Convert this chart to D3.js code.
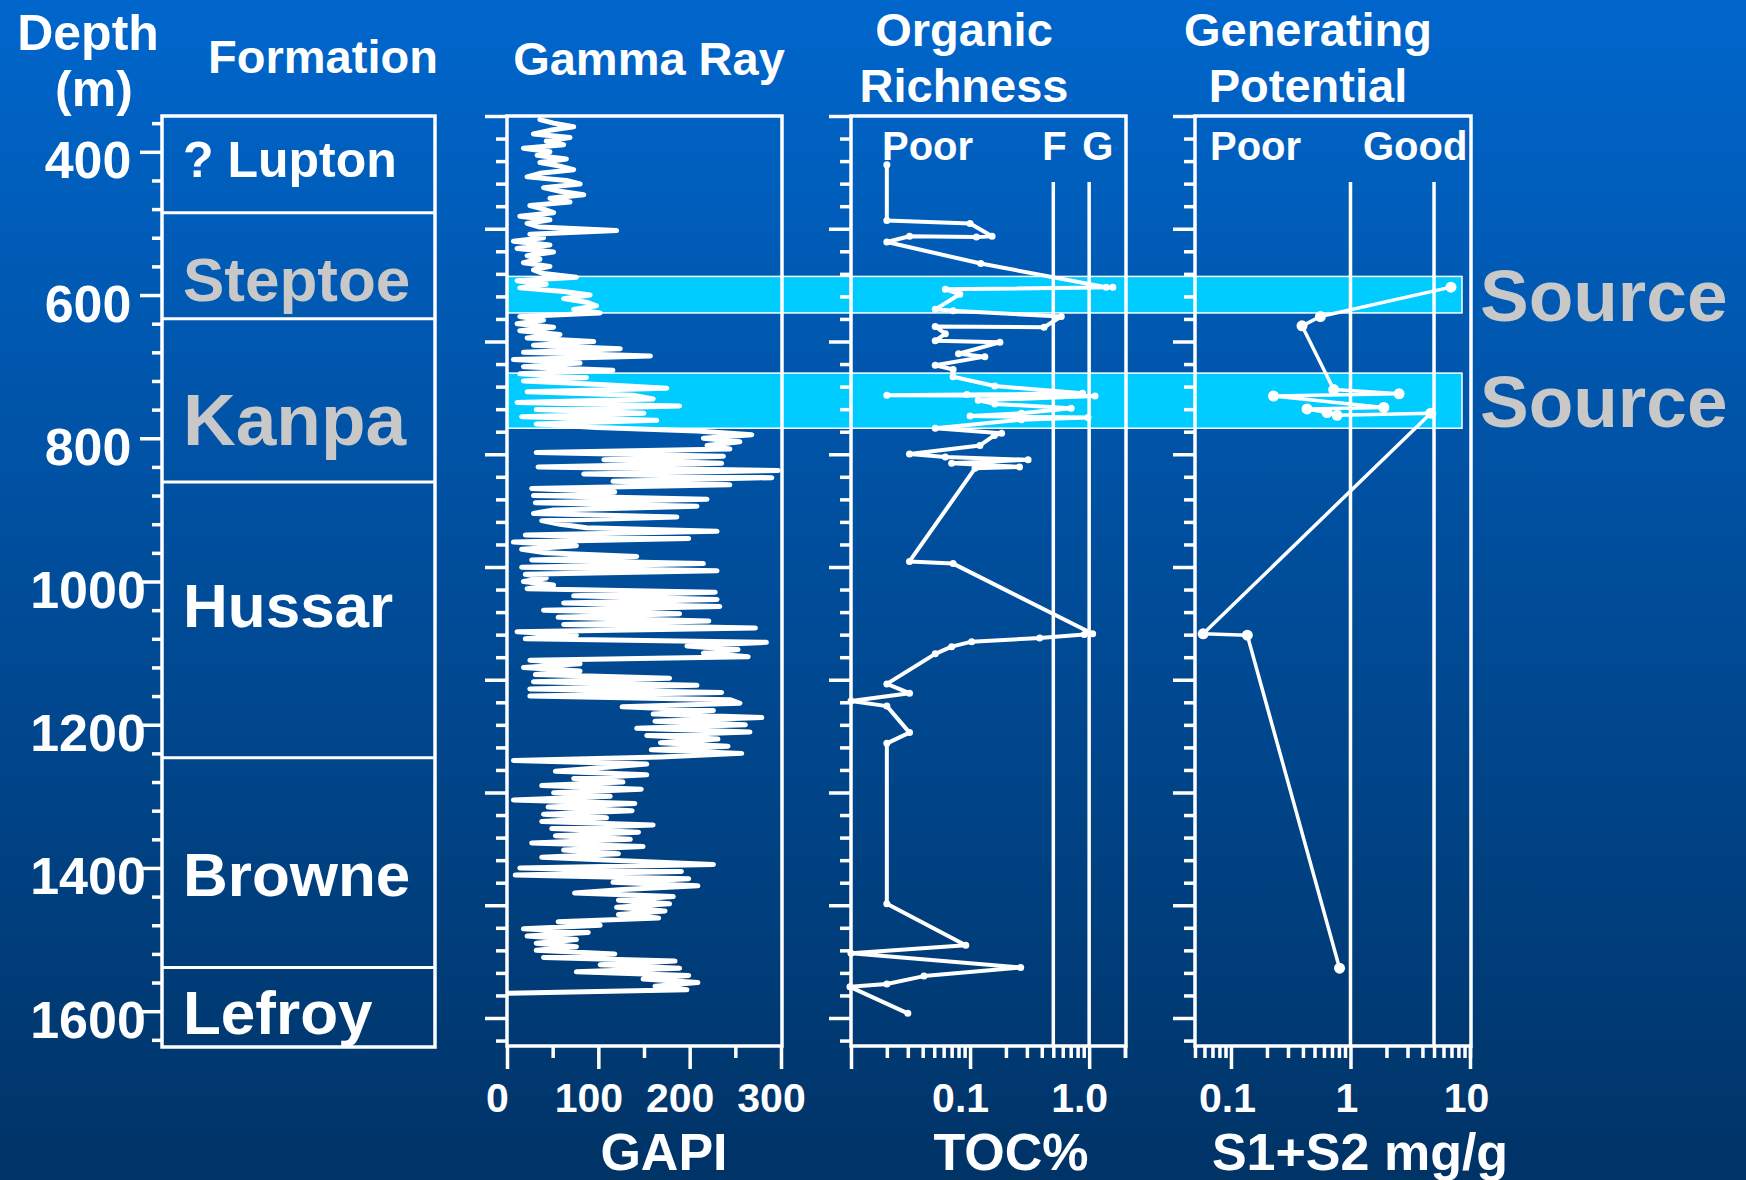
<!DOCTYPE html>
<html>
<head>
<meta charset="utf-8">
<script src="https://cdn.jsdelivr.net/npm/d3@7"></script>
<style>
  body { margin: 0; background: #003366; }
  svg { display: block; }
  text { font-family: "Liberation Sans", Arial, sans-serif; font-weight: bold; }
</style>
</head>
<body>
<div id="chart"></div>
<script>

var width = 1746, height = 1180;

// formations, tops in metres
var formations = ['? Lupton', 'Steptoe', 'Kanpa', 'Hussar', 'Browne', 'Lefroy'];
var formationTops = [350, 485, 633, 861, 1246, 1539];
var formationBase = 1650;

// source rock intervals
var sourceTops = [574, 709];
var sourceBases = [625, 786];

// gamma ray log, one reading every 5 m from 355 m
var grTop = 355, grStep = 5;
var grValues = [
    36, 51, 73, 47, 29, 69, 43, 62, 18, 47,
    33, 65, 36, 58, 73, 36, 22, 65, 80, 40,
    58, 84, 47, 69, 25, 40, 51, 14, 47, 22,
    36, 120, 25, 40, 7, 47, 11, 51, 22, 36,
    18, 47, 29, 40, 76, 11, 43, 14, 62, 91,
    62, 87, 98, 73, 102, 14, 40, 11, 51, 14,
    58, 22, 95, 29, 124, 18, 157, 7, 80, 18,
    116, 14, 87, 18, 102, 175, 22, 138, 160, 11,
    189, 32, 150, 16, 164, 32, 98, 208, 268, 215,
    255, 219, 244, 32, 237, 106, 235, 34, 297, 84,
    290, 116, 244, 27, 118, 29, 219, 31, 208, 51,
    29, 186, 38, 58, 87, 230, 20, 199, 7, 76,
    16, 42, 142, 27, 215, 16, 230, 20, 43, 18,
    51, 22, 228, 73, 230, 62, 233, 40, 189, 56,
    221, 62, 272, 11, 76, 20, 284, 197, 253, 215,
    264, 25, 80, 18, 80, 31, 178, 29, 208, 25,
    235, 25, 244, 255, 126, 226, 160, 279, 162, 261,
    142, 266, 153, 231, 168, 242, 158, 257, 168, 7,
    153, 102, 53, 153, 73, 127, 38, 147, 51, 113,
    7, 140, 45, 137, 40, 109, 38, 160, 49, 144,
    53, 135, 27, 149, 62, 122, 38, 127, 226, 14,
    191, 9, 199, 116, 209, 127, 74, 182, 122, 178,
    120, 173, 122, 166, 56, 102, 18, 89, 22, 76,
    32, 76, 32, 118, 40, 184, 102, 189, 76, 199,
    149, 209, 162, 197, 2
];

// TOC samples
var tocDepth = [418, 496, 500, 518, 519, 518, 526, 556, 589, 589, 592, 599, 620, 622, 630, 645,
    644, 654, 664, 666, 682, 686, 698, 704, 714, 727, 737, 739, 740, 741, 747, 752, 758, 765,
    769, 771, 774, 786, 793, 796, 810, 822, 826, 830, 835, 840, 842, 972, 975, 1073, 1074,
    1079, 1084, 1091, 1101, 1143, 1156, 1167, 1174, 1211, 1226, 1450, 1508, 1519, 1539, 1551,
    1562, 1566, 1603];
var tocValue = [0.02, 0.02, 0.1, 0.153, 0.113, 0.031, 0.02, 0.123, 1.39, 1.58, 0.062, 0.082, 0.051, 0.072, 0.583, 0.418,
    0.051, 0.062, 0.051, 0.178, 0.08, 0.133, 0.051, 0.072, 0.072, 0.161, 0.88, 0.094, 0.02, 1.12, 0.117, 0.161, 0.706, 0.27,
    0.1, 0.977, 0.27, 0.051, 0.184, 0.16, 0.121, 0.031, 0.062, 0.307, 0.07, 0.26, 0.11, 0.031, 0.072, 1.07, 0.91,
    0.384, 0.103, 0.07, 0.051, 0.02, 0.031, 0.01, 0.02, 0.031, 0.02, 0.02, 0.092, 0.01, 0.266, 0.041,
    0.02, 0.0098, 0.03];

// S1+S2 samples
var gpDepth = [589, 630, 643, 732, 738, 741, 757, 759, 764, 768, 765, 1073, 1075, 1540];
var gpValue = [6.93, 0.56, 0.393, 0.724, 2.55, 0.227, 1.9, 0.433, 0.637, 0.773, 4.7, 0.0585, 0.137, 0.81];

var depthLabels = [400, 600, 800, 1000, 1200, 1400, 1600];
var grTicks = [0, 100, 200, 300];
var grMinor = [50, 150, 250];
var tocMajor = [0.01, 0.1, 1];
var tocLabels = { 0.1: '0.1', 1: '1.0' };
var gpMajor = [0.1, 1, 10];
var gpLabels = { 0.1: '0.1', 1: '1', 10: '10' };
var tocCutoffs = [0.5, 1];
var tocCutoffNames = ['F', 'G'];
var gpCutoffs = [1, 5];

// layout
var plotTop = 116, plotBottom = 1047;
var formStyle = [
    { size: 50, color: '#ffffff', base: 177 },
    { size: 62, color: '#c8c8c8', base: 301 },
    { size: 73, color: '#c8c8c8', base: 445 },
    { size: 62, color: '#ffffff', base: 627 },
    { size: 62, color: '#ffffff', base: 896 },
    { size: 62, color: '#ffffff', base: 1034 }
];

var y = d3.scaleLinear().domain([350, formationBase]).range([plotTop, plotBottom]);
var trackY = d3.scaleLinear().domain([0, 40]).range([plotTop, 1018]);
var xGR = d3.scaleLinear().domain([0, 300]).range([507, 781]);
var xTOC = d3.scaleLog().domain([0.01, 2]).range([851, 1125]);
var xGP = d3.scaleLog().domain([0.05, 10]).range([1195, 1470]);

var svg = d3.select('#chart').append('svg').attr('width', width).attr('height', height);

var grad = svg.append('defs').append('linearGradient').attr('id', 'bg')
    .attr('x1', 0).attr('y1', 0).attr('x2', 0).attr('y2', 1);
grad.append('stop').attr('offset', '0%').attr('stop-color', '#0066cc');
grad.append('stop').attr('offset', '100%').attr('stop-color', '#003366');
svg.append('rect').attr('width', width).attr('height', height).attr('fill', 'url(#bg)');

// source bands
svg.selectAll('rect.source').data(sourceTops).enter().append('rect')
    .attr('class', 'source')
    .attr('x', xGR(0)).attr('width', 1462 - xGR(0))
    .attr('y', function(d) { return y(d); })
    .attr('height', function(d, i) { return y(sourceBases[i]) - y(d); })
    .attr('fill', '#00ccff').attr('stroke', '#fff').attr('stroke-width', 1.5);

function styleAxis(g) {
    g.select('.domain').remove();
    g.attr('color', '#fff');
    g.selectAll('line').attr('stroke-width', 3.5);
}

// formation column
svg.append('rect').attr('x', 162).attr('y', plotTop).attr('width', 435 - 162).attr('height', plotBottom - plotTop)
    .attr('fill', 'none').attr('stroke', '#fff').attr('stroke-width', 3.5);

svg.selectAll('line.fm').data(formationTops.slice(1)).enter().append('line')
    .attr('class', 'fm')
    .attr('x1', 162).attr('x2', 435)
    .attr('y1', function(d) { return y(d); }).attr('y2', function(d) { return y(d); })
    .attr('stroke', '#fff').attr('stroke-width', 3);

svg.selectAll('text.fm').data(formations).enter().append('text')
    .attr('class', 'fm')
    .attr('x', 183)
    .attr('y', function(d, i) { return formStyle[i].base; })
    .attr('font-size', function(d, i) { return formStyle[i].size; })
    .attr('fill', function(d, i) { return formStyle[i].color; })
    .text(function(d) { return d; });

// depth axis
svg.append('g').attr('transform', 'translate(162,0)')
    .call(d3.axisLeft(y).tickValues(d3.range(360, 1641, 40).filter(function(d) { return d % 200; }))
        .tickSize(10).tickFormat(''))
    .call(styleAxis);

var depthAxis = svg.append('g').attr('transform', 'translate(162,0)')
    .call(d3.axisLeft(y).tickValues(depthLabels).tickSize(22).tickFormat(d3.format('d')))
    .call(styleAxis);
depthAxis.selectAll('text')
    .attr('x', 88 - 162).attr('dy', null).attr('y', 26)
    .attr('text-anchor', 'middle').attr('font-size', 52).attr('fill', '#fff')
    .style('font-family', '"Liberation Sans", Arial, sans-serif').style('font-weight', 'bold');

// track panels
var panels = [
    { x: xGR, major: grTicks, minor: grMinor, labels: null, dx: -10 },
    { x: xTOC, major: tocMajor, minor: null, labels: tocLabels, dx: -10 },
    { x: xGP, major: gpMajor, minor: null, labels: gpLabels, dx: -4 }
];

panels.forEach(function(p) {
    var r = p.x.range();
    var left = r[0], right = r[1] + 1;

    svg.append('rect').attr('x', left).attr('y', plotTop).attr('width', right - left).attr('height', plotBottom - 1 - plotTop)
        .attr('fill', 'none').attr('stroke', '#fff').attr('stroke-width', 3.5);

    svg.append('g').attr('transform', 'translate(' + left + ',0)')
        .call(d3.axisLeft(trackY).tickValues(d3.range(0, 42).filter(function(i) { return i % 5; }))
            .tickSize(11).tickFormat(''))
        .call(styleAxis);
    svg.append('g').attr('transform', 'translate(' + left + ',0)')
        .call(d3.axisLeft(trackY).tickValues(d3.range(0, 42, 5)).tickSize(22).tickFormat(''))
        .call(styleAxis);

    var minor = p.minor;
    if (!minor) {
        var d = p.x.domain();
        minor = p.x.ticks().filter(function(v) { return v >= d[0] && v <= d[1] && p.major.indexOf(v) < 0; });
        minor.push(d[1]);
    }
    svg.append('g').attr('transform', 'translate(0,' + (plotBottom - 1) + ')')
        .call(d3.axisBottom(p.x).tickValues(minor).tickSize(12).tickFormat(''))
        .call(styleAxis);

    var ax = svg.append('g').attr('transform', 'translate(0,' + (plotBottom - 1) + ')')
        .call(d3.axisBottom(p.x).tickValues(p.major).tickSize(23)
            .tickFormat(function(v) { return p.labels ? (p.labels[v] || '') : v; }))
        .call(styleAxis);
    ax.selectAll('text')
        .attr('y', 66).attr('dy', null).attr('x', p.dx)
        .attr('font-size', 41).attr('fill', '#fff')
        .style('font-family', '"Liberation Sans", Arial, sans-serif').style('font-weight', 'bold');
});

// cutoff lines
svg.selectAll('line.toccut').data(tocCutoffs).enter().append('line')
    .attr('class', 'toccut')
    .attr('x1', function(d) { return xTOC(d); }).attr('x2', function(d) { return xTOC(d); })
    .attr('y1', 182).attr('y2', plotBottom - 1)
    .attr('stroke', '#fff').attr('stroke-width', 3.5);

svg.selectAll('line.gpcut').data(gpCutoffs).enter().append('line')
    .attr('class', 'gpcut')
    .attr('x1', function(d) { return xGP(d); }).attr('x2', function(d) { return xGP(d); })
    .attr('y1', 182).attr('y2', plotBottom - 1)
    .attr('stroke', '#fff').attr('stroke-width', 3.5);

// gamma ray
var grLine = d3.line()
    .x(function(d) { return xGR(d); })
    .y(function(d, i) { return y(grTop + i * grStep); });

svg.append('path').datum(grValues)
    .attr('d', grLine)
    .attr('fill', 'none').attr('stroke', '#fff').attr('stroke-width', 5)
    .attr('stroke-linejoin', 'round').attr('stroke-linecap', 'round');

// TOC
var tocIdx = d3.range(tocDepth.length);
svg.append('path').datum(tocIdx)
    .attr('d', d3.line()
        .x(function(i) { return xTOC(tocValue[i]); })
        .y(function(i) { return y(tocDepth[i]); }))
    .attr('fill', 'none').attr('stroke', '#fff').attr('stroke-width', 4)
    .attr('stroke-linejoin', 'round');
svg.selectAll('circle.toc').data(tocIdx).enter().append('circle')
    .attr('class', 'toc')
    .attr('cx', function(i) { return xTOC(tocValue[i]); })
    .attr('cy', function(i) { return y(tocDepth[i]); })
    .attr('r', 3.5).attr('fill', '#fff');

// S1+S2
var gpIdx = d3.range(gpDepth.length);
svg.append('path').datum(gpIdx)
    .attr('d', d3.line()
        .x(function(i) { return xGP(gpValue[i]); })
        .y(function(i) { return y(gpDepth[i]); }))
    .attr('fill', 'none').attr('stroke', '#fff').attr('stroke-width', 3.5)
    .attr('stroke-linejoin', 'round');
svg.selectAll('circle.gp').data(gpIdx).enter().append('circle')
    .attr('class', 'gp')
    .attr('cx', function(i) { return xGP(gpValue[i]); })
    .attr('cy', function(i) { return y(gpDepth[i]); })
    .attr('r', 5.5).attr('fill', '#fff');

// source labels
svg.selectAll('text.src').data(sourceTops).enter().append('text')
    .attr('class', 'src')
    .attr('x', 1480)
    .attr('y', function(d, i) { return (y(d) + y(sourceBases[i])) / 2 + 26; })
    .attr('font-size', 73).attr('fill', '#c8c8c8')
    .text('Source');

// headers
function label(txt, x, yy, size, anchor) {
    svg.append('text').attr('x', x).attr('y', yy)
        .attr('font-size', size).attr('fill', '#fff')
        .attr('text-anchor', anchor || 'middle')
        .text(txt);
}

label('Depth', 88, 50, 50);
label('(m)', 94, 106, 50);
label('Formation', 323, 73, 47);
label('Gamma Ray', 649, 75, 47);
label('Organic', 964, 46, 47);
label('Richness', 964, 102, 47);
label('Generating', 1308, 46, 47);
label('Potential', 1308, 102, 47);

label('Poor', 882, 160, 40, 'start');
tocCutoffNames.forEach(function(n, i) {
    label(n, xTOC(tocCutoffs[i]) - 11 + i * 4, 160, 40, 'start');
});
label('Poor', 1210, 160, 40, 'start');
label('Good', 1363, 160, 40, 'start');

label('GAPI', 664, 1170, 52);
label('TOC%', 1011, 1170, 52);
label('S1+S2 mg/g', 1360, 1170, 52);

</script>
</body>
</html>
